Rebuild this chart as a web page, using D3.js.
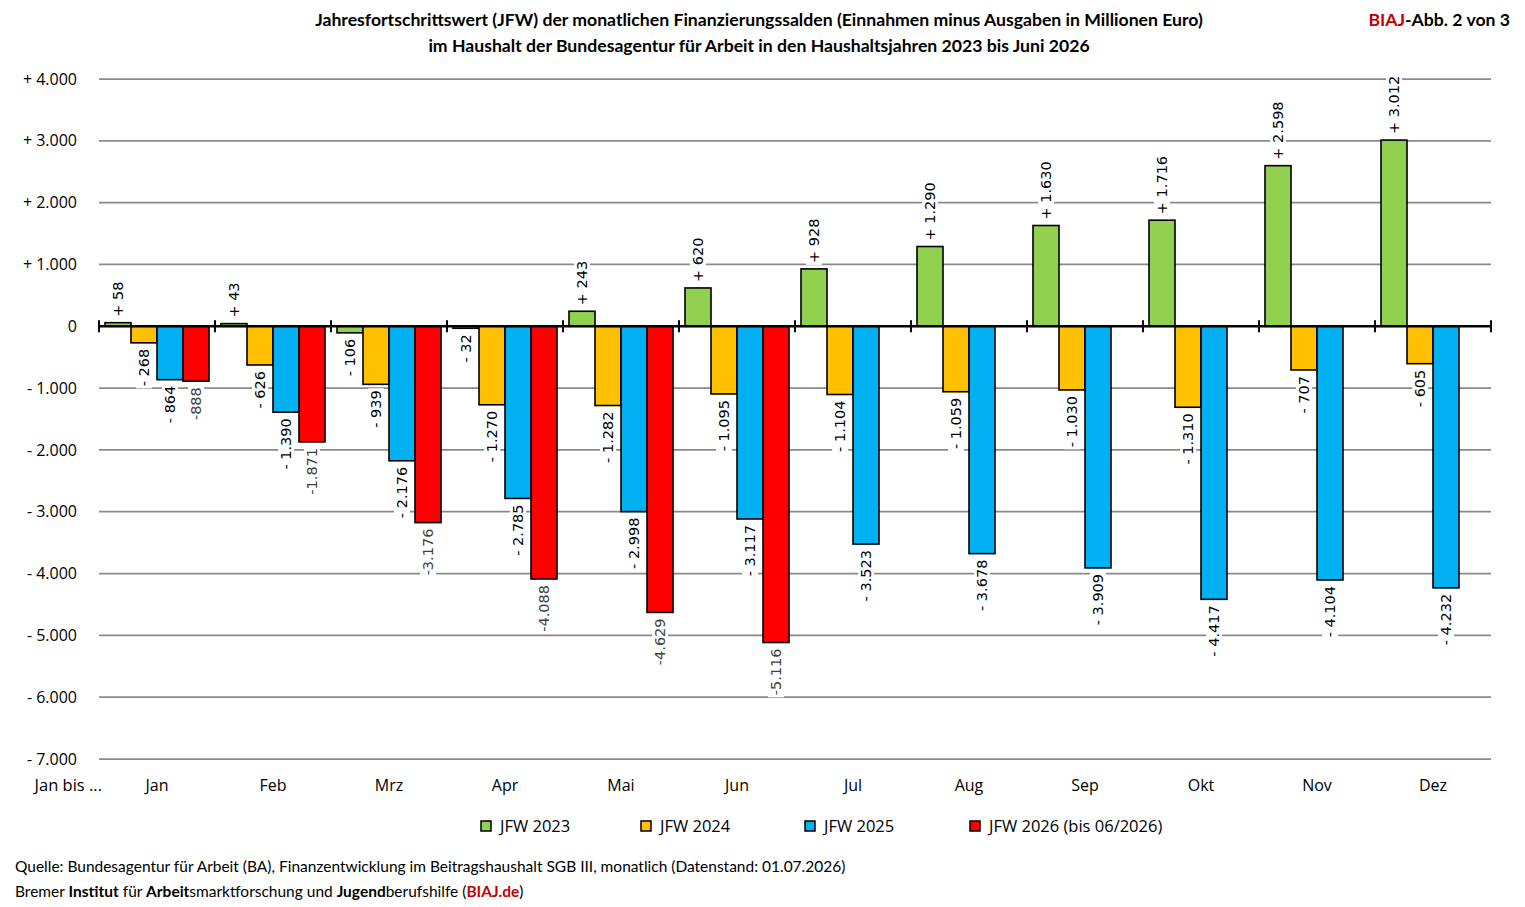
<!DOCTYPE html>
<html>
<head>
<meta charset="utf-8">
<script src="https://cdn.jsdelivr.net/npm/d3@7"></script>
<style>
  html, body { margin: 0; padding: 0; background: #fff; }
  svg { display: block; }
</style>
</head>
<body>
<svg id="chart" width="1525" height="907"></svg>
<script>
const months = ["Jan","Feb","Mrz","Apr","Mai","Jun","Jul","Aug","Sep","Okt","Nov","Dez"];
const seriesNames = ["JFW 2023","JFW 2024","JFW 2025","JFW 2026 (bis 06/2026)"];
const seriesColors = ["#92D050","#FFC000","#00B0F0","#FF0000"];
const jfw2023 = [58, 43, -106, -32, 243, 620, 928, 1290, 1630, 1716, 2598, 3012];
const jfw2024 = [-268, -626, -939, -1270, -1282, -1095, -1104, -1059, -1030, -1310, -707, -605];
const jfw2025 = [-864, -1390, -2176, -2785, -2998, -3117, -3523, -3678, -3909, -4417, -4104, -4232];
const jfw2026 = [-888, -1871, -3176, -4088, -4629, -5116];
const yTicks = [4000, 3000, 2000, 1000, 0, -1000, -2000, -3000, -4000, -5000, -6000, -7000];

const allSeries = [jfw2023, jfw2024, jfw2025, jfw2026];

const svg = d3.select("#chart");
const plotLeft = 99, plotRight = 1491, plotTop = 79, plotBottom = 759;

const y = d3.scaleLinear().domain([-7000, 4000]).range([plotBottom, plotTop]);
const x0 = d3.scaleBand().domain(months).range([plotLeft, plotRight]).paddingInner(0).paddingOuter(0);
const x1 = d3.scaleBand().domain(d3.range(4)).range([6, x0.bandwidth() - 6]).padding(0);

const deFmt = v => {
  const a = Math.abs(v);
  return a >= 1000 ? Math.floor(a / 1000) + "." + String(a % 1000).padStart(3, "0") : String(a);
};
const tickFmt = v => v === 0 ? "0" : (v > 0 ? "+ " : "- ") + deFmt(v);

function fitText(sel, target, base) {
  const len = sel.node().getComputedTextLength();
  const fs = base * target / len;
  sel.style("font-size", fs + "px");
  return fs;
}

// Title
const titleFont = "Lato, 'Open Sans', sans-serif";
const t1 = svg.append("text").attr("x", 759).attr("y", 26).attr("text-anchor", "middle")
  .style("font-family", titleFont).style("font-weight", "bold").style("font-size", "16px")
  .text("Jahresfortschrittswert (JFW) der monatlichen Finanzierungssalden (Einnahmen minus Ausgaben in Millionen Euro)");
const tfs = fitText(t1, 888, 16);
svg.append("text").attr("x", 759).attr("y", 52).attr("text-anchor", "middle")
  .style("font-family", titleFont).style("font-weight", "bold").style("font-size", tfs + "px")
  .text("im Haushalt der Bundesagentur für Arbeit in den Haushaltsjahren 2023 bis Juni 2026");

const badge = svg.append("text").attr("x", 1510).attr("y", 26).attr("text-anchor", "end")
  .style("font-family", titleFont).style("font-weight", "bold").style("font-size", tfs + "px");
badge.append("tspan").attr("fill", "#C00000").text("BIAJ");
badge.append("tspan").attr("fill", "#000").text("-Abb. 2 von 3");

// Gridlines
const axisFont = "'Open Sans', sans-serif";
svg.append("g").selectAll("line").data(yTicks.filter(d => d !== 0)).join("line")
  .attr("x1", plotLeft).attr("x2", plotRight)
  .attr("y1", d => y(d)).attr("y2", d => y(d))
  .attr("stroke", "#8a8a8a").attr("stroke-width", 1.75);

// Y tick labels
svg.append("g").selectAll("text").data(yTicks).join("text")
  .attr("x", 77).attr("y", d => y(d)).attr("dy", "0.35em").attr("text-anchor", "end")
  .style("font-family", axisFont).style("font-size", "16px").attr("fill", "#000")
  .text(tickFmt);

// Bars
const barG = svg.append("g");
allSeries.forEach((vals, si) => {
  barG.append("g").selectAll("rect").data(vals.map((v, i) => ({ v, m: months[i] }))).join("rect")
    .attr("x", d => x0(d.m) + x1(si))
    .attr("width", x1.bandwidth())
    .attr("y", d => Math.min(y(d.v), y(0)))
    .attr("height", d => Math.abs(y(d.v) - y(0)))
    .attr("fill", seriesColors[si])
    .attr("stroke", "#000").attr("stroke-width", 1.6);
});

// Zero axis
const axisG = svg.append("g");
axisG.append("line").attr("x1", plotLeft).attr("x2", plotRight)
  .attr("y1", y(0)).attr("y2", y(0)).attr("stroke", "#000").attr("stroke-width", 2.5);
const boundaries = months.map(m => x0(m)).concat([plotRight]);
axisG.selectAll("line.tk").data(boundaries).join("line").attr("class", "tk")
  .attr("x1", d => d).attr("x2", d => d)
  .attr("y1", y(0) - 6).attr("y2", y(0) + 6)
  .attr("stroke", "#000").attr("stroke-width", 2);

// Data labels
const labelFont = "'DejaVu Sans', sans-serif";
const labG = svg.append("g");
allSeries.forEach((vals, si) => {
  vals.forEach((v, i) => {
    const cx = x0(months[i]) + x1(si) + x1.bandwidth() / 2;
    const yEnd = y(v);
    const txt = si === 3 ? (v < 0 ? "-" : "+") + deFmt(v) : (v < 0 ? "- " : "+ ") + deFmt(v);
    const g = labG.append("g");
    const ty = v >= 0 ? yEnd - 6 : yEnd + 6;
    const anchor = v >= 0 ? "start" : "end";
    const t = g.append("text")
      .attr("transform", `translate(${cx},${ty}) rotate(-90)`)
      .attr("text-anchor", anchor).attr("dy", "0.35em")
      .style("font-family", labelFont).style("font-size", "14.5px")
      .attr("fill", si === 3 ? "#404040" : "#000")
      .text(txt);
    const bb = t.node().getBBox();
    g.insert("rect", "text")
      .attr("transform", `translate(${cx},${ty}) rotate(-90)`)
      .attr("x", bb.x - 2).attr("y", bb.y).attr("width", bb.width + 4).attr("height", bb.height)
      .attr("fill", "#fff");
  });
});

// X labels
svg.append("g").selectAll("text").data(months).join("text")
  .attr("x", d => x0(d) + x0.bandwidth() / 2).attr("y", 791).attr("text-anchor", "middle")
  .style("font-family", axisFont).style("font-size", "16px").attr("fill", "#000")
  .text(d => d);
svg.append("text").attr("x", 102).attr("y", 791).attr("text-anchor", "end")
  .style("font-family", axisFont).style("font-size", "16.5px").attr("fill", "#000")
  .text("Jan bis ...");

// Legend
const legX = [481, 641, 805, 970];
const legG = svg.append("g");
seriesNames.forEach((n, i) => {
  legG.append("rect").attr("x", legX[i]).attr("y", 821).attr("width", 10).attr("height", 10)
    .attr("fill", seriesColors[i]).attr("stroke", "#000").attr("stroke-width", 1.5);
  legG.append("text").attr("x", legX[i] + 19).attr("y", 832)
    .style("font-family", axisFont).style("font-size", "16.5px").attr("fill", "#000").text(n);
});

// Footer
const f1 = svg.append("text").attr("x", 15).attr("y", 872)
  .style("font-family", titleFont).style("font-size", "15px").attr("fill", "#000")
  .text("Quelle: Bundesagentur für Arbeit (BA), Finanzentwicklung im Beitragshaushalt SGB III, monatlich (Datenstand: 01.07.2026)");
const ffs = fitText(f1, 831, 15);
const f2 = svg.append("text").attr("x", 15).attr("y", 897)
  .style("font-family", titleFont).style("font-size", ffs + "px").attr("fill", "#000");
[["Bremer ", false, "#000"], ["Institut", true, "#000"], [" für ", false, "#000"], ["Arbeit", true, "#000"],
 ["smarktforschung und ", false, "#000"], ["Jugend", true, "#000"], ["berufshilfe (", false, "#000"],
 ["BIAJ.de", true, "#C00000"], [")", false, "#000"]].forEach(([s, b, c]) => {
  f2.append("tspan").attr("fill", c).style("font-weight", b ? "bold" : "normal").text(s);
});
</script>
</body>
</html>
